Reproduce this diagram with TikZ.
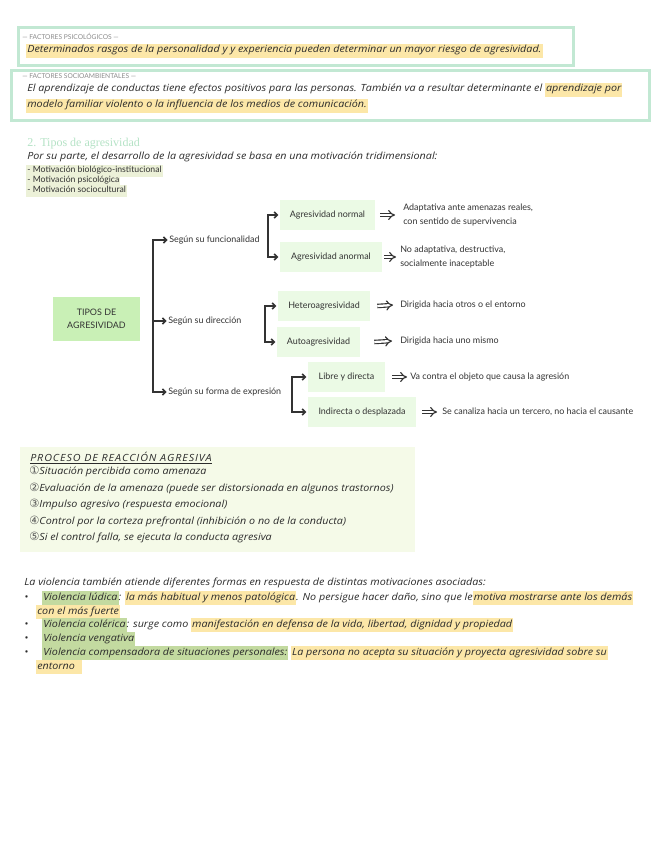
\documentclass[tikz,border=0pt]{standalone}
\usepackage{fontspec}
\setmainfont{Open Sans}
\newfontfamily\hwfam{Open Sans}[FakeStretch=1.09]
\newfontfamily\dgfont{Lato}
\newfontfamily\symfont{DejaVu Sans}
\newfontfamily\headfont{Liberation Serif}
\usetikzlibrary{arrows.meta,calc}
\definecolor{mint}{HTML}{C2E8D3}
\definecolor{headg}{HTML}{B5E3C6}
\definecolor{tipg}{HTML}{C9F0B6}
\definecolor{subg}{HTML}{EBFAE5}
\definecolor{procg}{HTML}{F5FAE8}
\definecolor{hlyc}{HTML}{FCE7A8}
\definecolor{hlgc}{HTML}{C3DAA0}
\definecolor{hlmc}{HTML}{ECF1D8}
\definecolor{ink}{HTML}{2B2B2B}
\definecolor{ink2}{HTML}{333333}
\definecolor{graytxt}{HTML}{8C8C8C}
\definecolor{numc}{HTML}{555555}
\newcommand{\hwfont}{\hwfam\fontsize{7.4}{8.8}\selectfont\itshape}
\newcommand{\hly}[1]{\begingroup\setlength{\fboxsep}{0.8pt}\colorbox{hlyc}{\strut #1}\endgroup}
\newcommand{\hlg}[1]{\begingroup\setlength{\fboxsep}{0.8pt}\colorbox{hlgc}{\strut #1}\endgroup}
\newcommand{\hlm}[1]{\begingroup\setlength{\fboxsep}{0.8pt}\colorbox{hlmc}{\strut #1}\endgroup}
\newcommand{\cnum}[1]{{\symfont\upshape\fontsize{8.5}{8.5}\selectfont\color{numc}#1}}
\tikzset{
  hw/.style={font=\hwfont, anchor=base west, inner sep=0pt, text=ink},
  dgt/.style={font=\dgfont\fontsize{6.7}{9.8}\selectfont, text=ink2, inner sep=0pt},
  ttl/.style={font=\dgfont\fontsize{5}{6}\selectfont, text=graytxt, anchor=base west, inner sep=0pt},
  subbox/.style={dgt, fill=subg, minimum height=22.5pt},
  desc/.style={dgt, anchor=west, align=left},
  brk/.style={line width=1.1pt, draw=ink2, shorten <=1pt, shorten >=1pt},
  dbl/.style={draw=ink2, double=white, double distance=1.7pt, line width=0.85pt, -{Implies}},
  frame/.style={draw=mint, line width=2.3pt, anchor=north west, inner sep=0pt},
  mot/.style={font=\dgfont\fontsize{6.5}{7}\selectfont, text=ink2, anchor=base west, inner sep=0pt},
  >={Straight Barb[length=2.4pt,width=4.6pt]}
}
\begin{document}
\begin{tikzpicture}[x=0.75pt,y=-0.75pt]
\path[use as bounding box, fill=white] (0,0) rectangle (656,848);

% --- Box 1
\node[frame, minimum width=416.25pt, minimum height=28.5pt] (box1) at (17,26) {};
\node[ttl] (box1t) at (22,40) {— FACTORES PSICOLÓGICOS —};
\node[hw] (box1x) at (26,53) {\hly{Determinados rasgos de la personalidad y y experiencia pueden determinar un mayor riesgo de agresividad.}};

% --- Box 2
\node[frame, minimum width=478.5pt, minimum height=37.5pt] (box2) at (10,69) {};
\node[ttl] (box2t) at (22,79) {— FACTORES SOCIOAMBIENTALES —};
\node[hw] (box2a) at (27,92) {El aprendizaje de conductas tiene efectos positivos para las personas. También va a resultar determinante el \hly{aprendizaje por}};
\node[hw] (box2b) at (26,108) {\hly{modelo familiar violento o la influencia de los medios de comunicación.}};

% --- Section 2
\node[font=\headfont\fontsize{9}{11}\selectfont, text=headg, anchor=base west, inner sep=0pt] (head) at (27,147) {2. Tipos de agresividad};
\node[hw] (intro) at (27,160) {Por su parte, el desarrollo de la agresividad se basa en una motivación tridimensional:};
\node[mot] (m1) at (26,173) {\hlm{- Motivación biológico-institucional}};
\node[mot] (m2) at (26,183) {\hlm{- Motivación psicológica}};
\node[mot] (m3) at (26,193) {\hlm{- Motivación sociocultural}};

% --- Diagram
\node[dgt, fill=tipg, minimum width=65.25pt, minimum height=33pt, align=center] (tipos) at (96.5,319) {TIPOS DE\\AGRESIVIDAD};
\coordinate (mx) at (153,0);
\node[dgt, anchor=west] (s1) at (169,240) {Según su funcionalidad};
\node[dgt, anchor=west] (s2) at (168,321) {Según su dirección};
\node[dgt, anchor=west] (s3) at (168,392) {Según su forma de expresión};
\draw[brk,<->] (s3.west) -- (s3.west -| mx) -- (s1.west -| mx) -- (s1.west);
\draw[brk,->] (s2.west -| mx) -- (s2.west);

% funcionalidad
\node[subbox, minimum width=71.25pt] (b1) at (327.5,215) {Agresividad normal};
\node[subbox, minimum width=76.5pt] (b2) at (331,257) {Agresividad anormal};
\coordinate (fx) at (268,0);
\draw[brk,<->] (b2.west) -- (b2.west -| fx) -- (b1.west -| fx) -- (b1.west);
\node[desc] (t1) at (403,215) {Adaptativa ante amenazas reales,\\con sentido de supervivencia};
\node[desc] (t2) at (400,257) {No adaptativa, destructiva,\\socialmente inaceptable};
\draw[dbl] ($(b1.east)+(5,0)$) -- ($(t1.west)+(-8,0)$);
\draw[dbl] ($(b2.east)+(2,0)$) -- ($(t2.west)+(-4,0)$);

% direccion
\node[subbox, minimum width=69pt] (b3) at (324,306) {Heteroagresividad};
\node[subbox, minimum width=62.25pt] (b4) at (318.5,342) {Autoagresividad};
\coordinate (dx) at (265,0);
\draw[brk,<->] (b4.west) -- (b4.west -| dx) -- (b3.west -| dx) -- (b3.west);
\node[desc] (t3) at (400,305) {Dirigida hacia otros o el entorno};
\node[desc] (t4) at (400,341) {Dirigida hacia uno mismo};
\draw[dbl] ($(b3.east)+(7,0)$) -- ($(t3.west)+(-7,0)$);
\draw[dbl] ($(b4.east)+(14,0)$) -- ($(t4.west)+(-8,0)$);

% forma de expresion
\node[subbox, minimum width=57.75pt] (b5) at (346.5,377) {Libre y directa};
\node[subbox, minimum width=81pt] (b6) at (362,412) {Indirecta o desplazada};
\coordinate (ex) at (292,0);
\draw[brk,<->] (b6.west) -- (b6.west -| ex) -- (b5.west -| ex) -- (b5.west);
\node[desc] (t5) at (410,377) {Va contra el objeto que causa la agresión};
\node[desc] (t6) at (442,412) {Se canaliza hacia un tercero, no hacia el causante};
\draw[dbl] ($(b5.east)+(7,0)$) -- ($(t5.west)+(-3,0)$);
\draw[dbl] ($(b6.east)+(6,0)$) -- ($(t6.west)+(-5,0)$);

% --- Proceso
\node[fill=procg, minimum width=296.25pt, minimum height=78.75pt, inner sep=0pt, anchor=north west] (proc) at (20,447) {};
\node[hw] (pt) at (30,461) {\addfontfeature{LetterSpace=9}\underline{PROCESO DE REACCIÓN AGRESIVA}};
\node[hw] (p1) at (29,474) {\cnum{①}Situación percibida como amenaza};
\node[hw] (p2) at (29,491) {\cnum{②}Evaluación de la amenaza (puede ser distorsionada en algunos trastornos)};
\node[hw] (p3) at (29,507) {\cnum{③}Impulso agresivo (respuesta emocional)};
\node[hw] (p4) at (29,524) {\cnum{④}Control por la corteza prefrontal (inhibición o no de la conducta)};
\node[hw] (p5) at (29,540) {\cnum{⑤}Si el control falla, se ejecuta la conducta agresiva};

% --- Violencia
\node[hw] (v0) at (24,585) {La violencia también atiende diferentes formas en respuesta de distintas motivaciones asociadas:};
\node[hw] (d1) at (24,600) {•};
\node[hw] (d2) at (24,627) {•};
\node[hw] (d3) at (24,641) {•};
\node[hw] (d4) at (24,655) {•};
\node[hw] (v1) at (42,600) {\hlg{Violencia lúdica}: \hly{la más habitual y menos patológica}. No persigue hacer daño, sino que le\hly{motiva mostrarse ante los demás}};
\node[hw] (v1b) at (36,614) {\hly{con el más fuerte}};
\node[hw] (v2) at (42,627) {\hlg{Violencia colérica}: surge como \hly{manifestación en defensa de la vida, libertad, dignidad y propiedad}};
\node[hw] (v3) at (42,641) {\hlg{Violencia vengativa}};
\node[hw] (v4) at (42,655) {\hlg{Violencia compensadora de situaciones personales:} \hly{La persona no acepta su situación y proyecta agresividad sobre su}};
\node[hw] (v4b) at (36,669) {\hly{entorno\ \ }};
\end{tikzpicture}
\end{document}
